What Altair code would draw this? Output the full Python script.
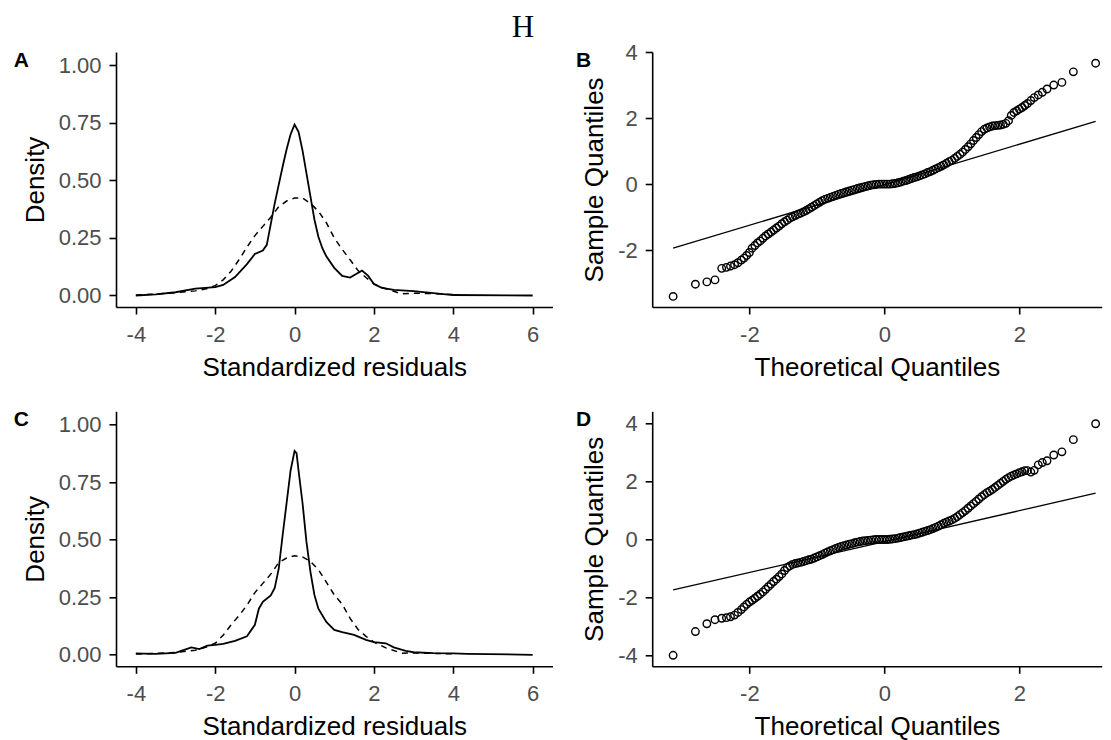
import altair as alt
import pandas as pd

FONT = "Liberation Sans"
MINUS_FIX = "replace(datum.label, '\u2212', '-')"

# ---------------- Panel A: density curves ----------------
a_solid_x = [-4.0, -3.5, -3.0, -2.5, -2.0, -1.8, -1.5, -1.2, -1.0, -0.8, -0.7, -0.6, -0.5, -0.4,
             -0.3, -0.2, -0.1, 0.0, 0.1, 0.2, 0.3, 0.4, 0.5, 0.6, 0.7, 0.8, 1.0, 1.2, 1.4, 1.55,
             1.7, 1.85, 2.0, 2.2, 2.5, 3.0, 3.5, 4.0, 6.0]
a_solid_y = [0.0, 0.005, 0.014, 0.03, 0.036, 0.046, 0.08, 0.136, 0.18, 0.195, 0.22, 0.31, 0.40, 0.48,
             0.56, 0.635, 0.70, 0.742, 0.71, 0.63, 0.53, 0.43, 0.33, 0.255, 0.205, 0.17, 0.12, 0.085,
             0.078, 0.093, 0.108, 0.086, 0.05, 0.033, 0.024, 0.019, 0.01, 0.002, 0.0]
a_dash_x = [-4.0, -3.5, -3.0, -2.5, -2.2, -2.0, -1.8, -1.6, -1.4, -1.2, -1.0, -0.8, -0.6, -0.4, -0.2,
            0.0, 0.2, 0.4, 0.6, 0.8, 1.0, 1.2, 1.4, 1.6, 1.8, 2.0, 2.2, 2.5, 2.7, 3.0, 3.5, 4.0]
a_dash_y = [0.002, 0.006, 0.012, 0.02, 0.03, 0.043, 0.068, 0.105, 0.155, 0.21, 0.26, 0.30, 0.34, 0.385,
            0.41, 0.423, 0.423, 0.40, 0.366, 0.316, 0.25, 0.20, 0.155, 0.108, 0.078, 0.05, 0.035,
            0.018, 0.007, 0.01, 0.008, 0.004]

# ---------------- Panel C: density curves ----------------
c_solid_x = [-4.0, -3.8, -3.5, -3.0, -2.8, -2.6, -2.4, -2.2, -2.0, -1.8, -1.5, -1.2, -1.0, -0.9, -0.8,
             -0.6, -0.5, -0.4, -0.3, -0.2, -0.1, 0.0, 0.05, 0.1, 0.2, 0.3, 0.4, 0.5, 0.6, 0.8, 1.0,
             1.2, 1.5, 1.8, 2.0, 2.3, 2.5, 2.8, 3.0, 3.5, 4.0, 4.35, 6.0]
c_solid_y = [0.006, 0.005, 0.004, 0.008, 0.02, 0.032, 0.025, 0.04, 0.043, 0.047, 0.06, 0.08, 0.13, 0.2,
             0.23, 0.258, 0.29, 0.373, 0.52, 0.66, 0.80, 0.885, 0.875, 0.80, 0.66, 0.49, 0.36, 0.26,
             0.20, 0.143, 0.108, 0.098, 0.086, 0.065, 0.055, 0.05, 0.032, 0.017, 0.011, 0.007, 0.006,
             0.004, 0.0]
c_dash_x = [-4.0, -3.5, -3.0, -2.5, -2.2, -2.0, -1.8, -1.6, -1.4, -1.2, -1.0, -0.8, -0.6, -0.4, -0.2,
            0.0, 0.2, 0.4, 0.6, 0.8, 1.0, 1.2, 1.4, 1.6, 1.8, 2.0, 2.3, 2.7, 3.0, 3.5, 4.0]
c_dash_y = [0.003, 0.006, 0.01, 0.02, 0.035, 0.05, 0.085, 0.13, 0.17, 0.215, 0.27, 0.31, 0.35, 0.40,
            0.42, 0.43, 0.425, 0.405, 0.37, 0.315, 0.26, 0.22, 0.158, 0.11, 0.08, 0.055, 0.03, 0.007,
            0.008, 0.006, 0.004]

# ---------------- QQ plots (B, D) ----------------
theo = [-3.13, -2.80, -2.63, -2.51, -2.41, -2.34, -2.28, -2.22, -2.17, -2.12, -2.08, -2.04,
        -2.00, -1.96, -1.92, -1.88, -1.84, -1.80, -1.76, -1.72, -1.68, -1.64,
        -1.60, -1.56, -1.52, -1.48, -1.44, -1.40, -1.36, -1.32, -1.28, -1.24,
        -1.20, -1.16, -1.12, -1.08, -1.04, -1.00, -0.96, -0.92, -0.88, -0.84,
        -0.80, -0.76, -0.72, -0.68, -0.64, -0.60, -0.56, -0.52, -0.48, -0.44,
        -0.40, -0.36, -0.32, -0.28, -0.24, -0.20, -0.16, -0.12, -0.08, -0.04,
        0.00, 0.04, 0.08, 0.12, 0.16, 0.20, 0.24, 0.28, 0.32, 0.36,
        0.40, 0.44, 0.48, 0.52, 0.56, 0.60, 0.64, 0.68, 0.72, 0.76,
        0.80, 0.84, 0.88, 0.92, 0.96, 1.00, 1.04, 1.08, 1.12, 1.16,
        1.20, 1.24, 1.28, 1.32, 1.36, 1.40, 1.44, 1.48, 1.52, 1.56,
        1.60, 1.64, 1.68, 1.72, 1.76, 1.80, 1.84, 1.88, 1.92, 1.96,
        2.00,
        2.04, 2.08, 2.12, 2.17, 2.22, 2.28, 2.34, 2.41, 2.51, 2.63, 2.80, 3.13]

b_sample = [-3.40, -3.03, -2.96, -2.90, -2.55, -2.52, -2.48, -2.44, -2.38, -2.30, -2.24, -2.16,
            -2.07, -1.94, -1.86, -1.78, -1.72, -1.64, -1.57, -1.51, -1.45, -1.39,
            -1.33, -1.27, -1.20, -1.14, -1.09, -1.03, -0.99, -0.95, -0.91, -0.88,
            -0.84, -0.80, -0.75, -0.70, -0.65, -0.60, -0.55, -0.50, -0.46, -0.43,
            -0.40, -0.37, -0.34, -0.31, -0.28, -0.26, -0.23, -0.21, -0.18, -0.16,
            -0.13, -0.11, -0.09, -0.07, -0.05, -0.03, -0.02, -0.01, 0.00, 0.00,
            0.00, 0.00, 0.00, 0.01, 0.02, 0.04, 0.06, 0.09, 0.11, 0.14,
            0.17, 0.20, 0.22, 0.25, 0.28, 0.31, 0.35, 0.38, 0.42, 0.46,
            0.50, 0.54, 0.58, 0.63, 0.68, 0.72, 0.78, 0.84, 0.90, 0.97,
            1.05, 1.13, 1.22, 1.32, 1.41, 1.50, 1.59, 1.66, 1.70, 1.73,
            1.76, 1.77, 1.78, 1.79, 1.81, 1.84, 1.92, 2.08, 2.17, 2.22,
            2.27,
            2.32, 2.38, 2.44, 2.53, 2.62, 2.70, 2.78, 2.88, 3.00, 3.08, 3.40, 3.66]

d_sample = [-4.00, -3.18, -2.91, -2.77, -2.72, -2.70, -2.67, -2.61, -2.52, -2.42, -2.33, -2.24,
            -2.16, -2.10, -2.03, -1.96, -1.89, -1.81, -1.72, -1.63, -1.54, -1.45,
            -1.37, -1.28, -1.19, -1.07, -0.97, -0.91, -0.86, -0.83, -0.81, -0.79,
            -0.76, -0.73, -0.70, -0.68, -0.64, -0.60, -0.56, -0.52, -0.47, -0.43,
            -0.39, -0.35, -0.31, -0.27, -0.24, -0.21, -0.19, -0.16, -0.14, -0.11,
            -0.09, -0.07, -0.05, -0.04, -0.03, -0.02, -0.01, 0.00, 0.00, 0.00,
            0.00, 0.00, 0.01, 0.02, 0.03, 0.05, 0.07, 0.09, 0.11, 0.13,
            0.15, 0.17, 0.19, 0.22, 0.25, 0.28, 0.31, 0.34, 0.38, 0.42,
            0.46, 0.51, 0.56, 0.60, 0.64, 0.68, 0.73, 0.79, 0.86, 0.93,
            1.00, 1.08, 1.16, 1.24, 1.32, 1.40, 1.48, 1.55, 1.62, 1.67,
            1.73, 1.80, 1.87, 1.94, 2.01, 2.08, 2.14, 2.19, 2.23, 2.27,
            2.31,
            2.34, 2.38, 2.38, 2.33, 2.39, 2.58, 2.66, 2.72, 2.92, 3.03, 3.45, 4.00]

qq_line_x = [-3.13, 3.13]
b_line_y = [-1.94, 1.90]
d_line_y = [-1.74, 1.60]

dens_x_ticks = [-4, -2, 0, 2, 4, 6]
dens_y_ticks = [0, 0.25, 0.5, 0.75, 1.0]
qq_x_ticks = [-2, 0, 2]
b_y_ticks = [-2, 0, 2, 4]
d_y_ticks = [-4, -2, 0, 2, 4]
panel_labels = ["A", "B", "C", "D"]
main_title = "H"

DW, DH = 436.5, 255
QW, QH = 449.5, 255


def label_layer(text, xpos):
    return alt.Chart(pd.DataFrame({"t": [text]})).mark_text(
        font=FONT, fontSize=21, fontWeight="bold", color="black",
        align="center", baseline="middle"
    ).encode(x=alt.value(xpos), y=alt.value(9), text="t:N")


def dens_panel(sx, sy, dx, dy, label, with_title=False):
    xs = alt.Scale(domain=[-4.5, 6.5], nice=False, zero=False)
    ys = alt.Scale(domain=[-0.05, 1.057], nice=False, zero=False)
    xax = alt.Axis(title="Standardized residuals", values=dens_x_ticks, format="d", labelExpr=MINUS_FIX)
    yax = alt.Axis(title="Density", values=dens_y_ticks, format=".2f")
    solid = alt.Chart(pd.DataFrame({"x": sx, "y": sy})).mark_line(
        color="black", strokeWidth=1.8
    ).encode(x=alt.X("x:Q", scale=xs, axis=xax), y=alt.Y("y:Q", scale=ys, axis=yax))
    dashed = alt.Chart(pd.DataFrame({"x": dx, "y": dy})).mark_line(
        color="black", strokeWidth=1.5, strokeDash=[6, 5]
    ).encode(x=alt.X("x:Q", scale=xs), y=alt.Y("y:Q", scale=ys))
    layers = [solid, dashed, label_layer(label, -94.7)]
    if with_title:
        layers.append(
            alt.Chart(pd.DataFrame({"t": [main_title]})).mark_text(
                font="Liberation Serif", fontSize=31, color="black",
                align="center", baseline="middle"
            ).encode(x=alt.value(407), y=alt.value(-24.5), text="t:N")
        )
    return alt.layer(*layers).properties(width=DW, height=DH)


def qq_panel(sample, line_y, ydom, yticks, label):
    xs = alt.Scale(domain=[-3.44, 3.22], nice=False, zero=False)
    ys = alt.Scale(domain=ydom, nice=False, zero=False)
    xax = alt.Axis(title="Theoretical Quantiles", values=qq_x_ticks, format="d", labelExpr=MINUS_FIX)
    yax = alt.Axis(title="Sample Quantiles", values=yticks, format="d", labelExpr=MINUS_FIX)
    pts = alt.Chart(pd.DataFrame({"x": theo, "y": sample})).mark_point(
        shape="circle", filled=False, size=56, strokeWidth=1.4, color="black", opacity=1
    ).encode(x=alt.X("x:Q", scale=xs, axis=xax), y=alt.Y("y:Q", scale=ys, axis=yax))
    line = alt.Chart(pd.DataFrame({"x": qq_line_x, "y": line_y})).mark_line(
        color="black", strokeWidth=1.3
    ).encode(x=alt.X("x:Q", scale=xs), y=alt.Y("y:Q", scale=ys))
    return alt.layer(pts, line, label_layer(label, -68.5)).properties(width=QW, height=QH)


pA = dens_panel(a_solid_x, a_solid_y, a_dash_x, a_dash_y, panel_labels[0], with_title=True)
pB = qq_panel(b_sample, b_line_y, [-3.72, 4.0], b_y_ticks, panel_labels[1])
pC = dens_panel(c_solid_x, c_solid_y, c_dash_x, c_dash_y, panel_labels[2])
pD = qq_panel(d_sample, d_line_y, [-4.38, 4.43], d_y_ticks, panel_labels[3])

chart = alt.concat(
    pA, pB, pC, pD, columns=2,
    spacing={"row": 104.3, "column": 99.2}, bounds="flush"
).properties(
    padding={"left": 5, "top": 3, "right": 0, "bottom": 0}
).configure_view(stroke=None).configure_axis(
    grid=False, domainColor="black", domainWidth=1.6, tickColor="black", tickWidth=1.6,
    tickSize=7, labelColor="#4d4d4d", labelFont=FONT, labelFontSize=22,
    titleFont=FONT, titleFontSize=26, titleColor="black", titleFontWeight="normal",
    labelFlush=False, labelOverlap=False
).configure_axisX(labelPadding=10, titlePadding=9).configure_axisY(labelPadding=8, titlePadding=10)

chart.save("out.html", embed_options={"renderer": "svg", "actions": False})
